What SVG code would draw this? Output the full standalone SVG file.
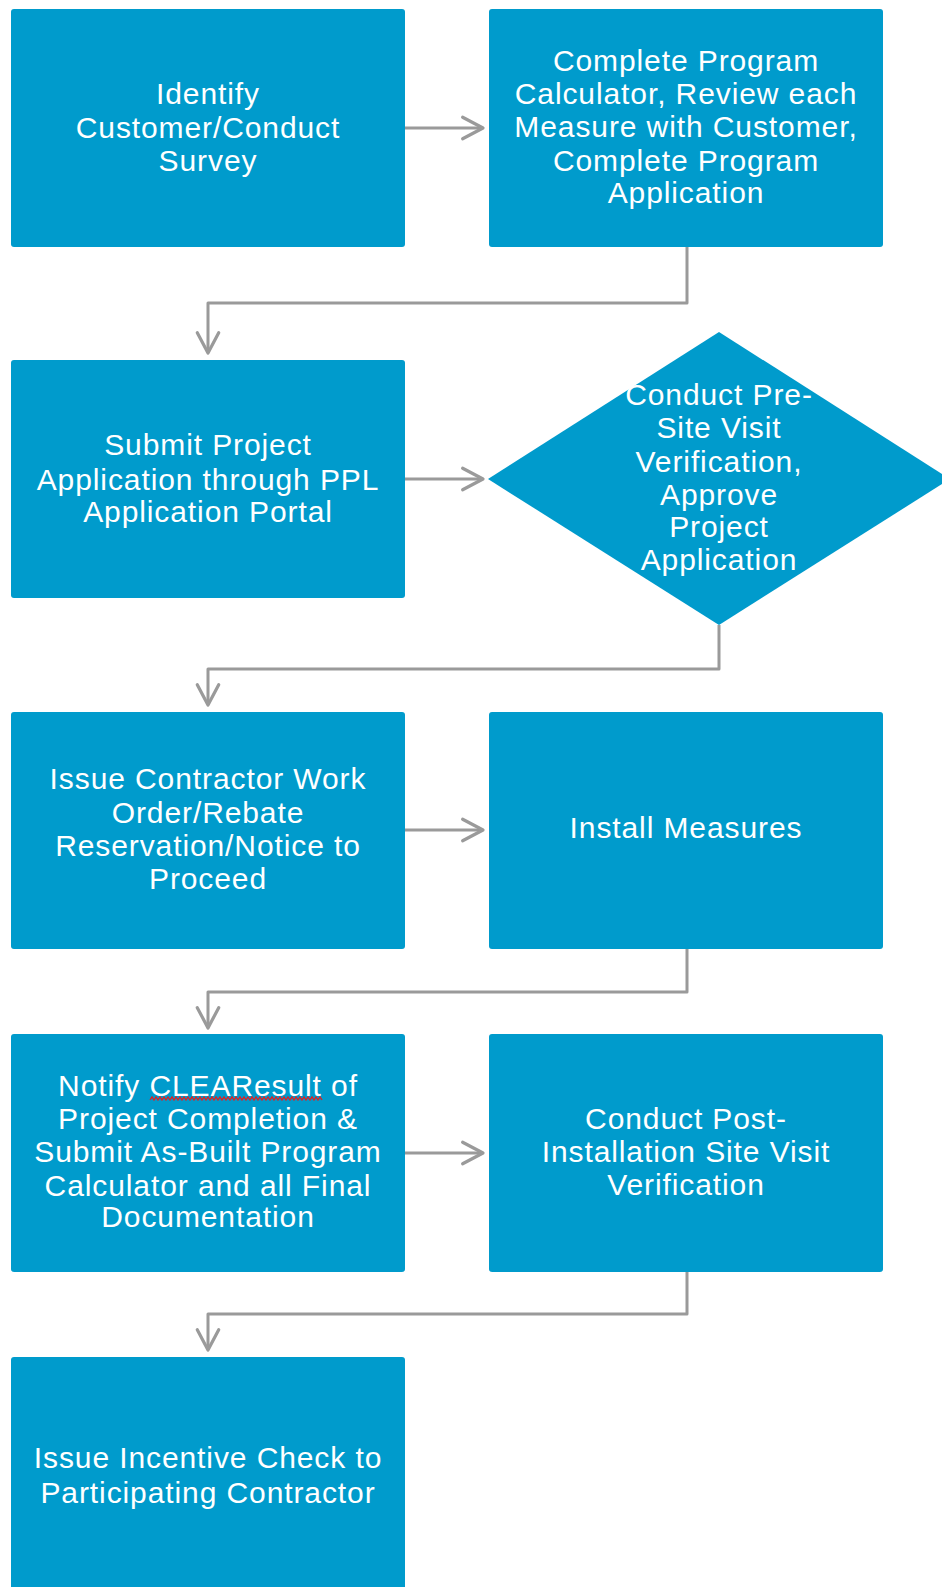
<svg xmlns="http://www.w3.org/2000/svg" width="942" height="1587" viewBox="0 0 942 1587">
<style>
.box{fill:#009BCC;}
.lbl{font-family:"Liberation Sans",Arial,sans-serif;font-size:30px;letter-spacing:0.9px;fill:#FFFFFF;text-anchor:middle;}
.conn{fill:none;stroke:#9A9A9A;stroke-width:3;stroke-linejoin:round;}
</style>
<defs>
<marker id="arr" markerUnits="userSpaceOnUse" markerWidth="30" markerHeight="30" viewBox="-24 -14 28 28" refX="0" refY="0" orient="auto">
<path d="M-19,-10 L0,0 L-19,10" fill="none" stroke="#9A9A9A" stroke-width="3" stroke-linecap="round" stroke-linejoin="round"/>
</marker>
</defs>
<rect width="942" height="1587" fill="#FFFFFF"/>
<g id="connectors">
<path class="conn" d="M405,128 H483" marker-end="url(#arr)"/>
<path class="conn" d="M405,479 H483" marker-end="url(#arr)"/>
<path class="conn" d="M405,830 H483" marker-end="url(#arr)"/>
<path class="conn" d="M405,1153 H483" marker-end="url(#arr)"/>
<path class="conn" d="M687,247 V303 H208 V353" marker-end="url(#arr)"/>
<path class="conn" d="M719,625 V669 H208 V705" marker-end="url(#arr)"/>
<path class="conn" d="M687,949 V992 H208 V1028" marker-end="url(#arr)"/>
<path class="conn" d="M687,1272 V1314 H208 V1350" marker-end="url(#arr)"/>
</g>
<g id="n1">
<rect class="box" x="11" y="9" width="394" height="238" rx="3"/>
<text class="lbl"><tspan x="208" y="104">Identify</tspan><tspan x="208" y="138">Customer/Conduct</tspan><tspan x="208" y="171">Survey</tspan></text>
</g>
<g id="n2">
<rect class="box" x="489" y="9" width="394" height="238" rx="3"/>
<text class="lbl"><tspan x="686" y="71">Complete Program</tspan><tspan x="686" y="104">Calculator, Review each</tspan><tspan x="686" y="137">Measure with Customer,</tspan><tspan x="686" y="171">Complete Program</tspan><tspan x="686" y="203">Application</tspan></text>
</g>
<g id="n3">
<rect class="box" x="11" y="360" width="394" height="238" rx="3"/>
<text class="lbl"><tspan x="208" y="455">Submit Project</tspan><tspan x="208" y="490">Application through PPL</tspan><tspan x="208" y="522">Application Portal</tspan></text>
</g>
<g id="n4">
<polygon class="box" points="719,332 950,479 719,625 488,479"/>
<text class="lbl"><tspan x="719" y="405">Conduct Pre-</tspan><tspan x="719" y="438">Site Visit</tspan><tspan x="719" y="472">Verification,</tspan><tspan x="719" y="505">Approve</tspan><tspan x="719" y="537">Project</tspan><tspan x="719" y="570">Application</tspan></text>
</g>
<g id="n5">
<rect class="box" x="11" y="712" width="394" height="237" rx="3"/>
<text class="lbl"><tspan x="208" y="789">Issue Contractor Work</tspan><tspan x="208" y="823">Order/Rebate</tspan><tspan x="208" y="856">Reservation/Notice to</tspan><tspan x="208" y="889">Proceed</tspan></text>
</g>
<g id="n6">
<rect class="box" x="489" y="712" width="394" height="237" rx="3"/>
<text class="lbl"><tspan x="686" y="838">Install Measures</tspan></text>
</g>
<g id="n7">
<rect class="box" x="11" y="1034" width="394" height="238" rx="3"/>
<text class="lbl"><tspan x="208" y="1096">Notify CLEAResult of</tspan><tspan x="208" y="1129">Project Completion &amp;</tspan><tspan x="208" y="1162">Submit As-Built Program</tspan><tspan x="208" y="1196">Calculator and all Final</tspan><tspan x="208" y="1227">Documentation</tspan></text>
<polyline points="150,1100 152,1097 154,1100 156,1097 158,1100 160,1097 162,1100 164,1097 166,1100 168,1097 170,1100 172,1097 174,1100 176,1097 178,1100 180,1097 182,1100 184,1097 186,1100 188,1097 190,1100 192,1097 194,1100 196,1097 198,1100 200,1097 202,1100 204,1097 206,1100 208,1097 210,1100 212,1097 214,1100 216,1097 218,1100 220,1097 222,1100 224,1097 226,1100 228,1097 230,1100 232,1097 234,1100 236,1097 238,1100 240,1097 242,1100 244,1097 246,1100 248,1097 250,1100 252,1097 254,1100 256,1097 258,1100 260,1097 262,1100 264,1097 266,1100 268,1097 270,1100 272,1097 274,1100 276,1097 278,1100 280,1097 282,1100 284,1097 286,1100 288,1097 290,1100 292,1097 294,1100 296,1097 298,1100 300,1097 302,1100 304,1097 306,1100 308,1097 310,1100 312,1097 314,1100 316,1097 318,1100 320,1097 322,1100" fill="none" stroke="#E02020" stroke-width="1.3"/>
</g>
<g id="n8">
<rect class="box" x="489" y="1034" width="394" height="238" rx="3"/>
<text class="lbl"><tspan x="686" y="1129">Conduct Post-</tspan><tspan x="686" y="1162">Installation Site Visit</tspan><tspan x="686" y="1195">Verification</tspan></text>
</g>
<g id="n9">
<rect class="box" x="11" y="1357" width="394" height="238" rx="3"/>
<text class="lbl"><tspan x="208" y="1468">Issue Incentive Check to</tspan><tspan x="208" y="1503">Participating Contractor</tspan></text>
</g>
</svg>
